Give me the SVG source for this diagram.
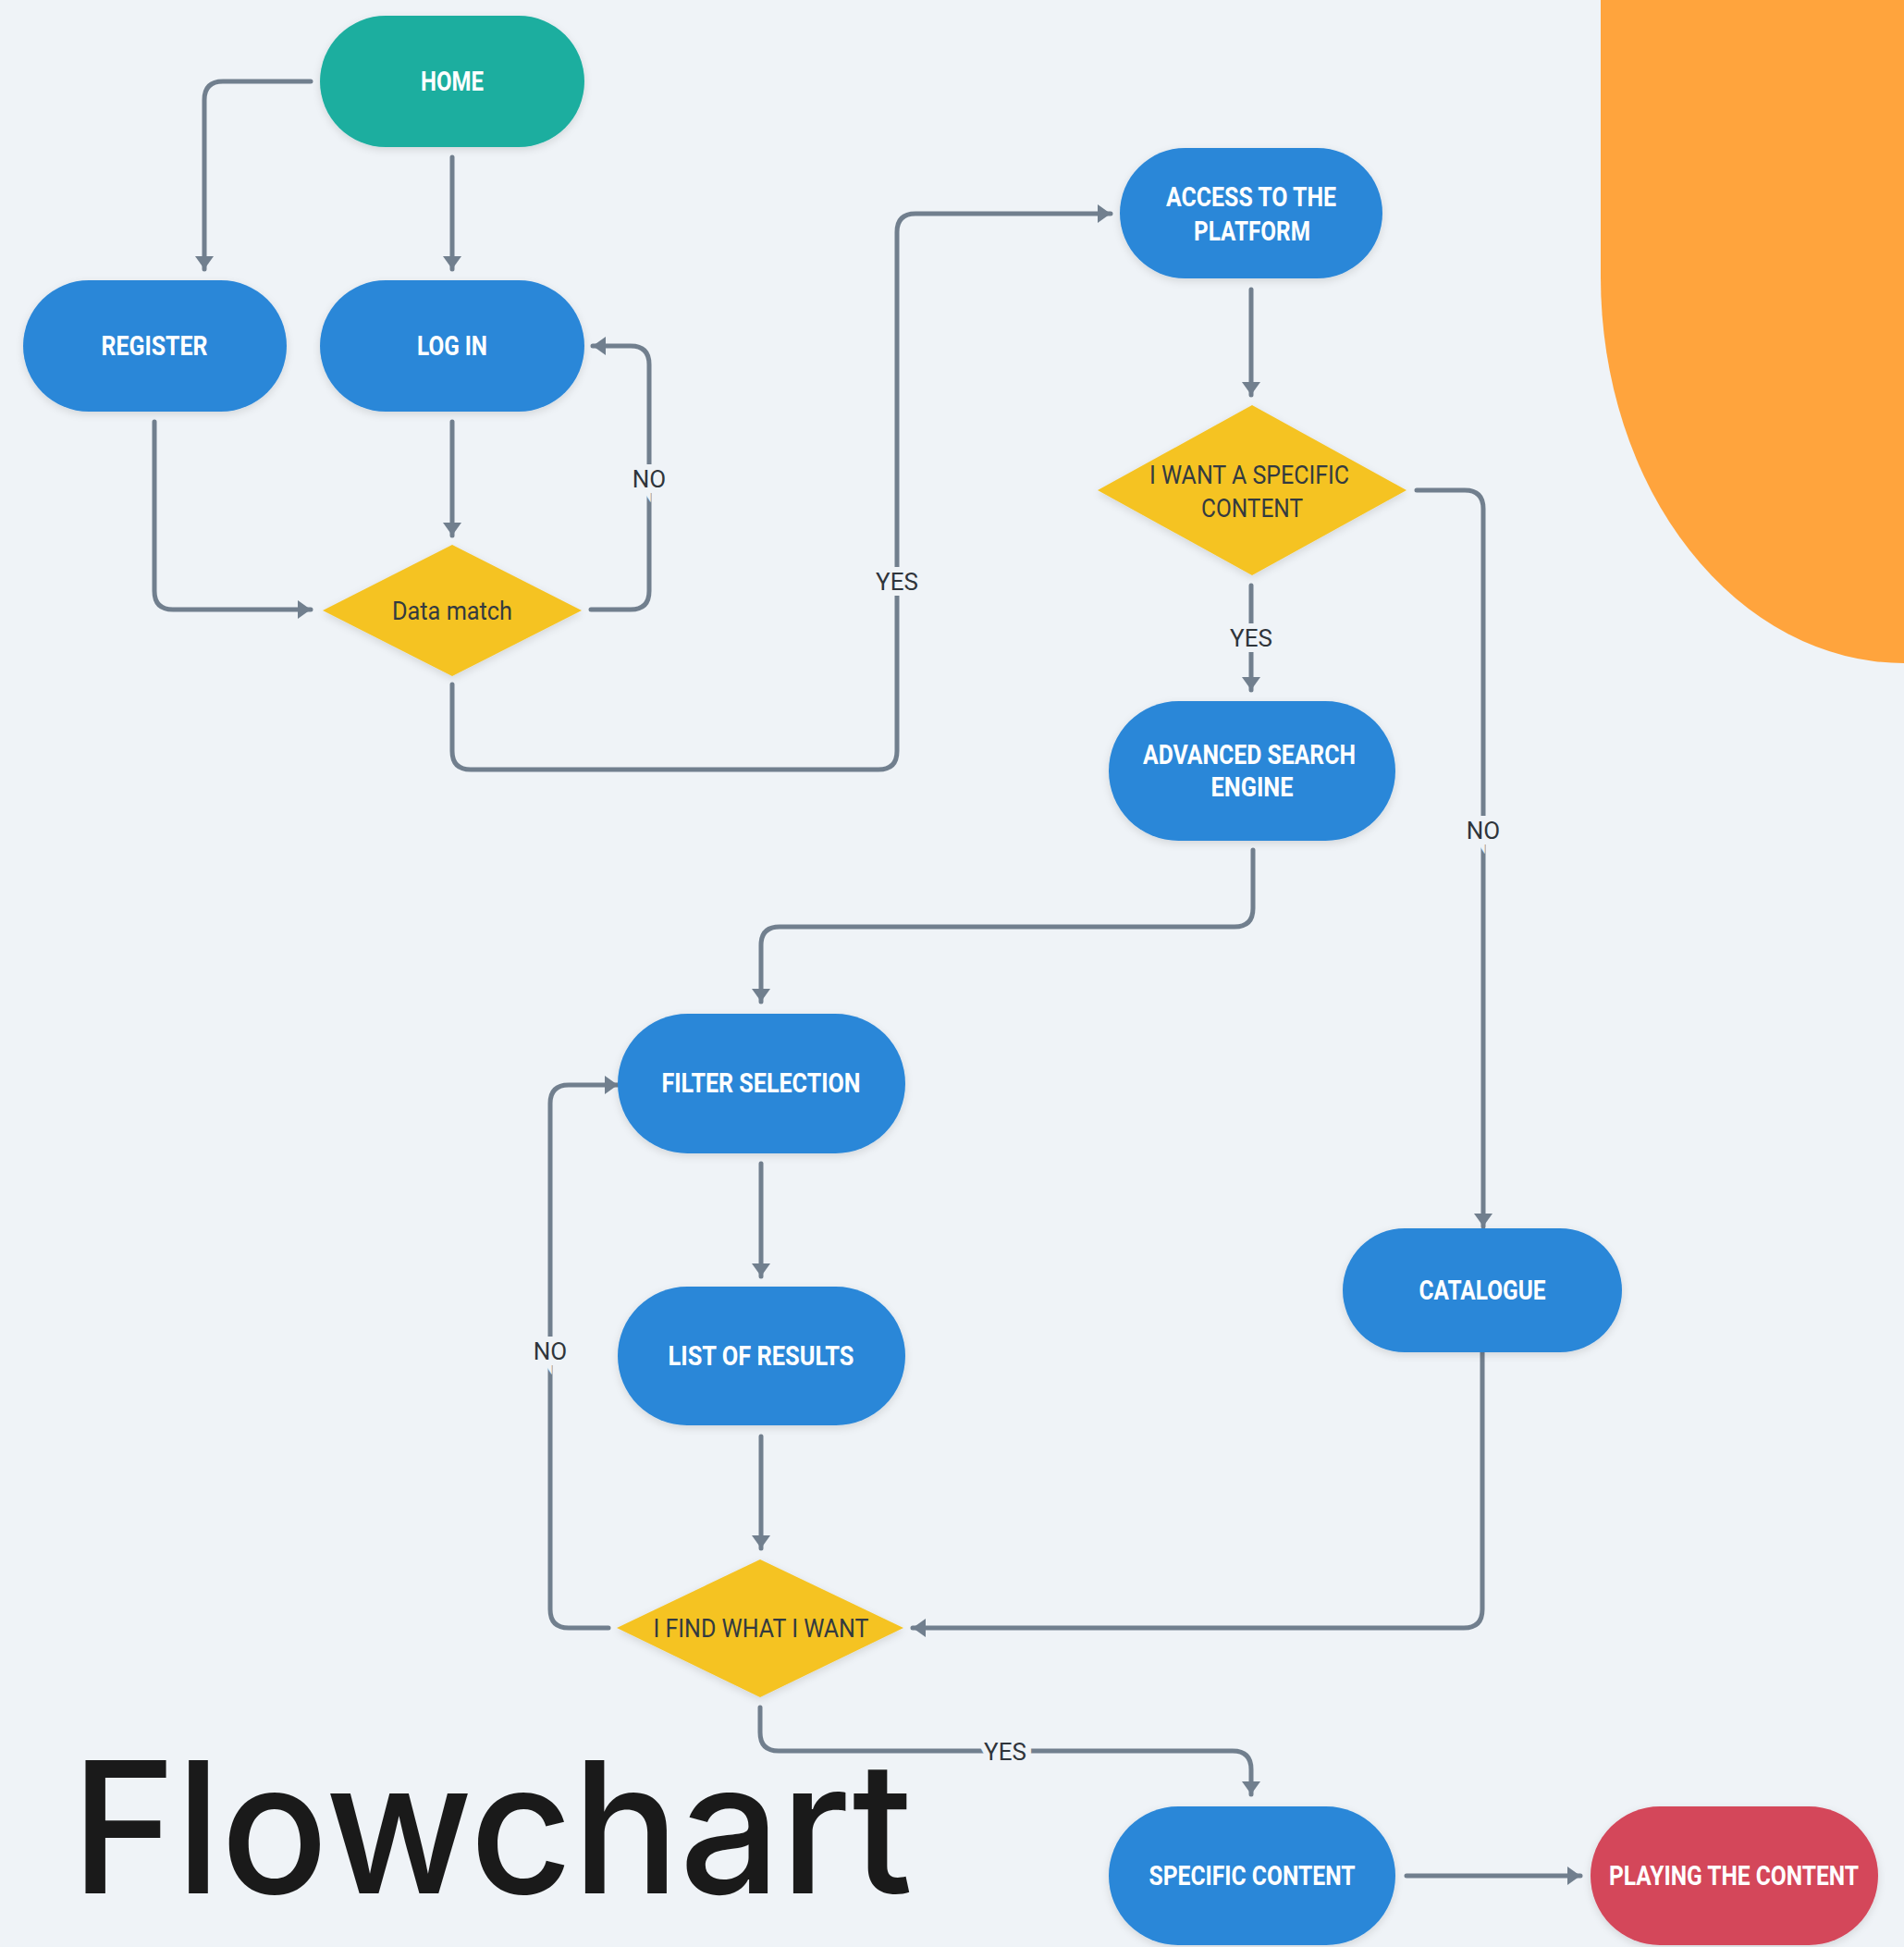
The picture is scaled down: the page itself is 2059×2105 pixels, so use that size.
<svg xmlns="http://www.w3.org/2000/svg" width="2059" height="2105" viewBox="0 0 2059 2105">
<style>
.bg{fill:#EFF3F7}
.pill{fill:#2B87D8;filter:url(#sh)}
.home{fill:#1BAE9F;filter:url(#sh)}
.red{fill:#D4465A;filter:url(#sh)}
.dia{fill:#F5C324;filter:url(#sh)}
.nt{font-family:Roboto,"Liberation Sans",sans-serif;font-weight:700;font-size:29px;fill:#FFFFFF;text-anchor:middle}
.dt{font-family:Roboto,"Liberation Sans",sans-serif;font-weight:400;font-size:28px;fill:#333A40;text-anchor:middle}
.el{font-family:Roboto,"Liberation Sans",sans-serif;font-weight:400;font-size:26px;fill:#2F353B;text-anchor:middle;stroke:#EFF3F7;stroke-width:12px;paint-order:stroke}
.cn{fill:none;stroke:#717F8E;stroke-width:5;stroke-linecap:round;stroke-linejoin:round;marker-end:url(#ah)}
.title{font-family:Inter,"Open Sans",sans-serif;font-weight:500;font-size:198px;fill:#1A1A1A}
</style>
<defs>
<marker id="ah" markerUnits="userSpaceOnUse" markerWidth="18" markerHeight="22" viewBox="0 0 18 22" refX="15" refY="11" orient="auto">
<path d="M1,1 L15,11 L1,21 Z" fill="#717F8E"/>
</marker>
<filter id="sh" x="-20%" y="-20%" width="140%" height="150%">
<feDropShadow dx="0" dy="3" stdDeviation="4" flood-color="#000" flood-opacity="0.12"/>
</filter>
</defs>
<rect class="bg" x="0" y="0" width="2059" height="2105"/>
<path d="M1731,0 L1731,300 A328,417 0 0 0 2059,717 L2059,0 Z" fill="#FFA43D"/>
<text class="title" x="77" y="2047" textLength="910" lengthAdjust="spacingAndGlyphs">Flowchart</text>

<g id="connectors">
<path class="cn" d="M336,88 H241 Q221,88 221,108 V291"/>
<path class="cn" d="M489,170 V291"/>
<path class="cn" d="M489,456 V579"/>
<path class="cn" d="M167,456 V639 Q167,659 187,659 H336"/>
<path class="cn" d="M639,659 H682 Q702,659 702,639 V394 Q702,374 682,374 H641"/>
<path class="cn" d="M489,740 V812 Q489,832 509,832 H950 Q970,832 970,812 V251 Q970,231 990,231 H1201"/>
<path class="cn" d="M1353,313 V427"/>
<path class="cn" d="M1353,633 V746"/>
<path class="cn" d="M1532,530 H1584 Q1604,530 1604,550 V1326"/>
<path class="cn" d="M1355,919 V982 Q1355,1002 1335,1002 H843 Q823,1002 823,1022 V1083"/>
<path class="cn" d="M823,1258 V1380"/>
<path class="cn" d="M823,1553 V1674"/>
<path class="cn" d="M658,1760 H615 Q595,1760 595,1740 V1193 Q595,1173 615,1173 H668"/>
<path class="cn" d="M1603,1462 V1740 Q1603,1760 1583,1760 H987"/>
<path class="cn" d="M822,1846 V1873 Q822,1893 842,1893 H1333 Q1353,1893 1353,1913 V1940"/>
<path class="cn" d="M1521,2028 H1709"/>
<text class="el" x="702" y="527">NO</text>
<text class="el" x="970" y="638">YES</text>
<text class="el" x="1353" y="699">YES</text>
<text class="el" x="1604" y="907">NO</text>
<text class="el" x="595" y="1470">NO</text>
<text class="el" x="1087" y="1903">YES</text>
</g>

<g id="home"><rect class="home" x="346" y="17" width="286" height="142" rx="71"/><text class="nt" x="489" y="98" textLength="68" lengthAdjust="spacingAndGlyphs">HOME</text></g>
<g id="register"><rect class="pill" x="25" y="303" width="285" height="142" rx="71"/><text class="nt" x="167" y="384" textLength="115" lengthAdjust="spacingAndGlyphs">REGISTER</text></g>
<g id="login"><rect class="pill" x="346" y="303" width="286" height="142" rx="71"/><text class="nt" x="489" y="384" textLength="76" lengthAdjust="spacingAndGlyphs">LOG IN</text></g>
<g id="datamatch"><polygon class="dia" points="489,589 629,660 489,731 349,660"/><text class="dt" x="489" y="670" textLength="130" lengthAdjust="spacingAndGlyphs">Data match</text></g>
<g id="access"><rect class="pill" x="1211" y="160" width="284" height="141" rx="70.5"/><text class="nt" x="1353" y="223" textLength="184" lengthAdjust="spacingAndGlyphs">ACCESS TO THE</text><text class="nt" x="1354" y="260" textLength="126" lengthAdjust="spacingAndGlyphs">PLATFORM</text></g>
<g id="want"><polygon class="dia" points="1354,438 1521,530 1354,622 1187,530"/><text class="dt" x="1351" y="523" textLength="216" lengthAdjust="spacingAndGlyphs">I WANT A SPECIFIC</text><text class="dt" x="1354" y="559" textLength="110" lengthAdjust="spacingAndGlyphs">CONTENT</text></g>
<g id="advanced"><rect class="pill" x="1199" y="758" width="310" height="151" rx="75.5"/><text class="nt" x="1351" y="826" textLength="230" lengthAdjust="spacingAndGlyphs">ADVANCED SEARCH</text><text class="nt" x="1354" y="861" textLength="89" lengthAdjust="spacingAndGlyphs">ENGINE</text></g>
<g id="filter"><rect class="pill" x="668" y="1096" width="311" height="151" rx="75.5"/><text class="nt" x="823" y="1181" textLength="215" lengthAdjust="spacingAndGlyphs">FILTER SELECTION</text></g>
<g id="list"><rect class="pill" x="668" y="1391" width="311" height="150" rx="75"/><text class="nt" x="823" y="1476" textLength="201" lengthAdjust="spacingAndGlyphs">LIST OF RESULTS</text></g>
<g id="catalogue"><rect class="pill" x="1452" y="1328" width="302" height="134" rx="67"/><text class="nt" x="1603" y="1405" textLength="137" lengthAdjust="spacingAndGlyphs">CATALOGUE</text></g>
<g id="ifind"><polygon class="dia" points="822,1686 977,1760 822,1835 667,1760"/><text class="dt" x="823" y="1770" textLength="233" lengthAdjust="spacingAndGlyphs">I FIND WHAT I WANT</text></g>
<g id="specific"><rect class="pill" x="1199" y="1953" width="310" height="150" rx="75"/><text class="nt" x="1354" y="2038" textLength="223" lengthAdjust="spacingAndGlyphs">SPECIFIC CONTENT</text></g>
<g id="playing"><rect class="red" x="1720" y="1953" width="311" height="150" rx="75"/><text class="nt" x="1875" y="2038" textLength="270" lengthAdjust="spacingAndGlyphs">PLAYING THE CONTENT</text></g>
</svg>
